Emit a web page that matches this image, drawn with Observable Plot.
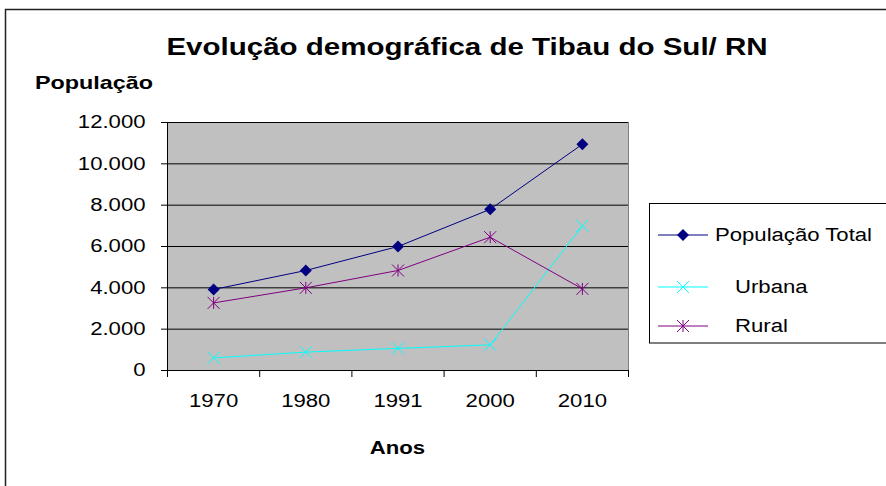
<!DOCTYPE html>
<html>
<head>
<meta charset="utf-8">
<script src="https://cdn.jsdelivr.net/npm/d3@7"></script>
<script src="https://cdn.jsdelivr.net/npm/@observablehq/plot@0.6"></script>
<style>
  html, body { margin: 0; padding: 0; background: white; }
</style>
</head>
<body>
<div id="chart"></div>
<script>
const years = ["1970", "1980", "1991", "2000", "2010"];
const total = [3920, 4840, 6000, 7800, 10950];
const urbana = [610, 890, 1070, 1240, 7000];
const rural = [3270, 4000, 4840, 6450, 3950];
const yTicks = [0, 2000, 4000, 6000, 8000, 10000, 12000];
const seriesNames = ["População Total", "Urbana", "Rural"];
const seriesColors = ["#000080", "#00FFFF", "#800080"];
const titleText = "Evolução demográfica de Tibau do Sul/ RN";
const yLabel = "População";
const xLabel = "Anos";

const FONT = "'Liberation Sans', Arial, sans-serif";
const SX = 1.23; // horizontal text stretch as in the reference

// custom marker symbols
const symDiamond = {draw(ctx, size) { const r = Math.sqrt(size / Math.PI);
  ctx.moveTo(0, -r); ctx.lineTo(r, 0); ctx.lineTo(0, r); ctx.lineTo(-r, 0); ctx.closePath(); }};
const symTimes = {draw(ctx, size) { const r = Math.sqrt(size / Math.PI);
  ctx.moveTo(-r, -r); ctx.lineTo(r, r); ctx.moveTo(-r, r); ctx.lineTo(r, -r); }};
const symStar = {draw(ctx, size) { const r = Math.sqrt(size / Math.PI);
  ctx.moveTo(-r, -r); ctx.lineTo(r, r); ctx.moveTo(-r, r); ctx.lineTo(r, -r);
  ctx.moveTo(0, -r); ctx.lineTo(0, r); }};
const symbols = [symDiamond, symTimes, symStar];

const seriesValues = [total, urbana, rural];
const rows = [];
seriesNames.forEach((s, k) => years.forEach((yr, i) => rows.push({serie: s, year: yr, value: seriesValues[k][i]})));

const xi = d => years.indexOf(d.year) + 0.5;
const fmt = v => d3.format(",")(v).replace(/,/g, ".");

const seriesMarks = seriesNames.flatMap((s, k) => {
  const data = rows.filter(r => r.serie === s);
  return [
    Plot.line(data, {x: xi, y: "value", stroke: seriesColors[k], strokeWidth: 1}),
    Plot.dot(data, {x: xi, y: "value", symbol: symbols[k], r: 6,
      fill: k === 0 ? seriesColors[k] : "none",
      stroke: k === 0 ? "none" : seriesColors[k], strokeWidth: 1})
  ];
});

const svg = Plot.plot({
  width: 886, height: 486,
  marginLeft: 167, marginRight: 258, marginTop: 122, marginBottom: 116,
  x: {domain: [0, 5], axis: null},
  y: {domain: [0, 12000], axis: null},
  style: {fontFamily: FONT, fontSize: "18px", background: "white", color: "black"},
  marks: [
    Plot.frame({fill: "#C0C0C0", stroke: "#808080"}),
    Plot.gridY({ticks: yTicks, stroke: "black", strokeOpacity: 1, strokeWidth: 1}),
    Plot.axisY({ticks: yTicks, tickSize: 6, tickFormat: () => "", label: null, stroke: "black"}),
    Plot.text(yTicks, {y: d => d, text: fmt, frameAnchor: "left", dx: -22, textAnchor: "end", fontSize: 18, fill: "black"}),
    Plot.axisX({ticks: [0, 1, 2, 3, 4, 5], tickSize: 7, tickFormat: () => "", label: null, stroke: "black"}),
    Plot.text(years, {x: (d, i) => i + 0.5, text: d => d, frameAnchor: "bottom", dy: 36, fontSize: 18, fill: "black"}),
    Plot.ruleX([0], {stroke: "black"}),
    Plot.ruleY([0], {stroke: "black"}),
    ...seriesMarks
  ]
});

const root = d3.select(svg);
// stretch Plot text horizontally around its anchor
root.selectAll("text").each(function() {
  const t = this.getAttribute("transform");
  if (t) this.setAttribute("transform", t + ` scale(${SX},1)`);
  else {
    const x = +this.getAttribute("x") || 0, y = +this.getAttribute("y") || 0;
    this.setAttribute("transform", `translate(${x},${y}) scale(${SX},1) translate(${-x},${-y})`);
  }
});

function addText(str, x, y, size, weight, anchor) {
  root.append("text")
    .attr("transform", `translate(${x},${y}) scale(${SX},1)`)
    .attr("text-anchor", anchor)
    .attr("dy", "0.35em")
    .attr("font-family", FONT)
    .attr("font-size", size)
    .attr("font-weight", weight)
    .attr("fill", "black")
    .text(str);
}

// outer chart border
root.append("path").attr("d", "M5.5,486 V9.5 H886").attr("fill", "none").attr("stroke", "#222").attr("stroke-width", 1.5);

addText(titleText, 467, 47, 24, "bold", "middle");
addText(yLabel, 35, 82, 19, "bold", "start");
addText(xLabel, 397.5, 448, 18, "bold", "middle");

// legend
const leg = root.append("g");
leg.append("rect").attr("x", 649.5).attr("y", 203.5).attr("width", 300).attr("height", 139.5)
  .attr("fill", "white").attr("stroke", "black").attr("stroke-width", 1);
const legY = [235, 287, 326];
const legTX = [715, 735, 735];
seriesNames.forEach((s, k) => {
  leg.append("line").attr("x1", 658).attr("x2", 708).attr("y1", legY[k]).attr("y2", legY[k])
    .attr("stroke", seriesColors[k]).attr("stroke-width", 1);
  leg.append("path").attr("transform", `translate(683,${legY[k]})`)
    .attr("d", d3.symbol(symbols[k], 36 * Math.PI)())
    .attr("fill", k === 0 ? seriesColors[k] : "none")
    .attr("stroke", k === 0 ? "none" : seriesColors[k]);
  addText(s, legTX[k], legY[k], 18, "normal", "start");
});

document.getElementById("chart").appendChild(svg);
</script>
</body>
</html>
